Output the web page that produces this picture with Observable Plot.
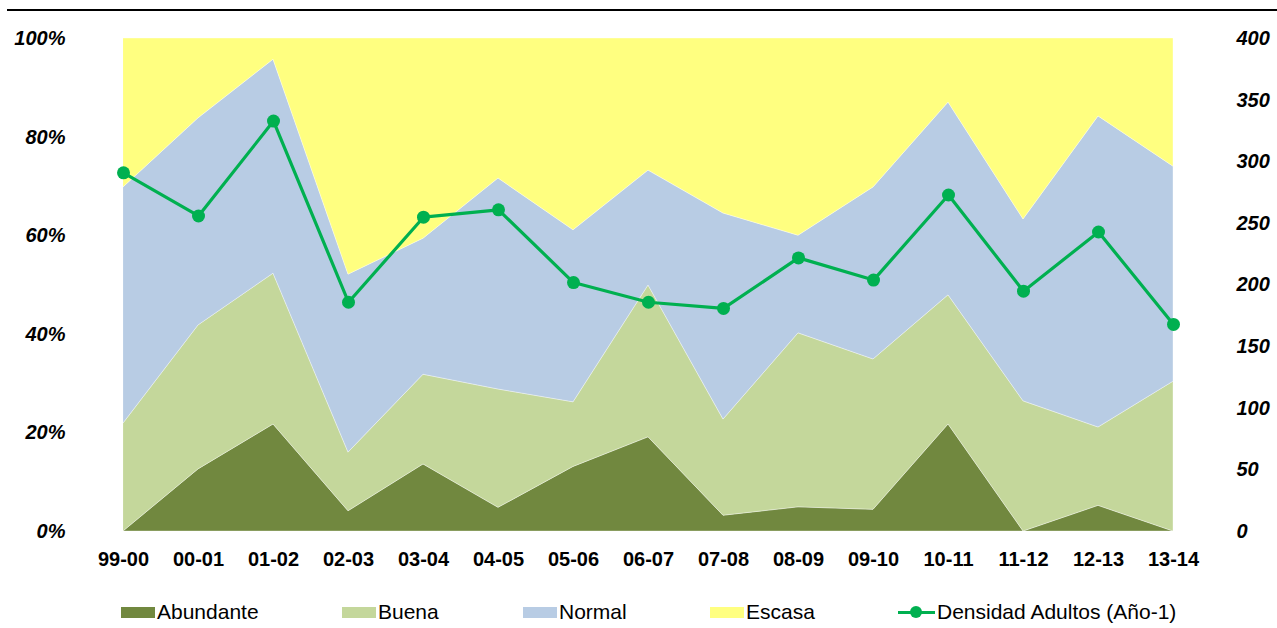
<!DOCTYPE html>
<html>
<head>
<meta charset="utf-8">
<script src="https://cdn.jsdelivr.net/npm/d3@7"></script>
<script src="https://cdn.jsdelivr.net/npm/@observablehq/plot@0.6"></script>
<style>
  html, body { margin: 0; padding: 0; background: #fff; }
  #wrap { position: relative; width: 1277px; height: 628px; font-family: "Liberation Sans", Arial, sans-serif; }
  #topline { position: absolute; left: 7px; right: 0; top: 9px; height: 2px; background: #000; }
  #chart { position: absolute; left: 0; top: 0; }
  #legend { position: absolute; left: 0; top: 599px; width: 1277px; height: 26px; font-size: 21px; color: #000; }
  .item { position: absolute; top: 0; display: flex; align-items: center; height: 26px; white-space: nowrap; }
  .sw { width: 34px; height: 11px; margin-right: 2px; }
  .ln { position: relative; width: 37px; height: 12px; margin-right: 2px; }
  .ln:before { content: ""; position: absolute; left: 0; right: 0; top: 4.5px; height: 3px; background: #00B050; }
  .ln:after { content: ""; position: absolute; left: 12px; top: 0; width: 12px; height: 12px; border-radius: 50%; background: #00B050; }
</style>
</head>
<body>
<div id="wrap">
  <div id="chart"></div>
  <div id="topline"></div>
  <div id="legend"></div>
</div>
<script>
const seasons = ["99-00","00-01","01-02","02-03","03-04","04-05","05-06","06-07","07-08","08-09","09-10","10-11","11-12","12-13","13-14"];
const abundante = [0, 12.6, 21.7, 4.1, 13.6, 4.8, 13.1, 19.1, 3.2, 4.9, 4.4, 21.7, 0, 5.2, 0];
const buena     = [21.9, 29.2, 30.6, 11.9, 18.2, 24.0, 13.1, 30.8, 19.5, 35.3, 30.5, 26.2, 26.4, 15.9, 30.4];
const normal    = [47.9, 42.0, 43.4, 36.1, 27.6, 42.8, 34.9, 23.3, 41.8, 19.8, 34.9, 39.1, 36.9, 63.1, 43.6];
const escasa    = [30.2, 16.2, 4.3, 47.9, 40.6, 28.4, 38.9, 26.8, 35.5, 40.0, 30.2, 13.0, 36.7, 15.8, 26.0];
const densidad  = [291, 256, 333, 186, 255, 261, 202, 186, 181, 222, 204, 273, 195, 243, 168];
const categories = ["Abundante", "Buena", "Normal", "Escasa"];
const colors = ["#71883F", "#C4D79B", "#B8CCE4", "#FFFF80"];
const lineName = "Densidad Adultos (Año-1)";
const lineColor = "#00B050";
const leftTicks = [0, 20, 40, 60, 80, 100];
const rightTicks = [0, 50, 100, 150, 200, 250, 300, 350, 400];
const rightMax = 400;

const series = [abundante, buena, normal, escasa];
const long = [];
categories.forEach((c, ci) => seasons.forEach((s, i) => long.push({season: s, cat: c, value: series[ci][i]})));
const lineData = seasons.map((s, i) => ({season: s, dens: densidad[i]}));
const toLeft = v => v * 100 / rightMax;

const font = '"Liberation Sans", Arial, sans-serif';
const chart = Plot.plot({
  width: 1277,
  height: 580,
  marginTop: 38,
  marginBottom: 49,
  marginLeft: 119,
  marginRight: 100,
  style: {background: "transparent", fontFamily: font, overflow: "visible"},
  x: {type: "point", domain: seasons, padding: 0, axis: null},
  y: {domain: [0, 100], axis: null},
  color: {domain: categories, range: colors},
  marks: [
    Plot.areaY(long, {x: "season", y: "value", fill: "cat", order: categories, stroke: "#ffffff", strokeWidth: 0.6, strokeOpacity: 0.6}),
    Plot.line(lineData, {x: "season", y: d => toLeft(d.dens), stroke: lineColor, strokeWidth: 3.2}),
    Plot.dot(lineData, {x: "season", y: d => toLeft(d.dens), fill: lineColor, r: 6.5}),
    Plot.axisX({ticks: seasons, label: null, tickSize: 0, tickPadding: 20, fontSize: 20, fontWeight: "bold", fill: "#000", fontFamily: font}),
    Plot.axisY({anchor: "left", label: null, ticks: leftTicks, tickSize: 0, tickPadding: 54, tickFormat: d => d + "%", fontSize: 20, fontWeight: "bold", fontStyle: "italic", fill: "#000", fontFamily: font}),
    Plot.axisY({anchor: "right", label: null, ticks: rightTicks.map(toLeft), tickSize: 0, tickPadding: 59, tickFormat: d => String(Math.round(d * rightMax / 100)), fontSize: 20, fontWeight: "bold", fontStyle: "italic", fill: "#000", fontFamily: font})
  ]
});
document.getElementById("chart").appendChild(chart);

const legend = document.getElementById("legend");
const legX = [121, 342, 523, 710];
categories.forEach((c, i) => {
  const d = document.createElement("div");
  d.className = "item";
  d.style.left = legX[i] + "px";
  d.innerHTML = `<span class="sw" style="background:${colors[i]}"></span><span>${c}</span>`;
  legend.appendChild(d);
});
const dl = document.createElement("div");
dl.className = "item";
dl.style.left = "898px";
dl.innerHTML = `<span class="ln"></span><span>${lineName}</span>`;
legend.appendChild(dl);
</script>
</body>
</html>
